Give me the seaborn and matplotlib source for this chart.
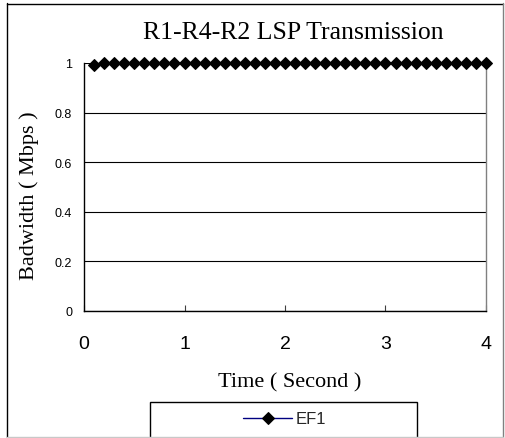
import numpy as np
import pandas as pd
import matplotlib
matplotlib.use("Agg")
import matplotlib.pyplot as plt
from matplotlib.lines import Line2D
from matplotlib.patches import Rectangle
import seaborn as sns

# ---- data ----
time_s = [0.1, 0.2, 0.3, 0.4, 0.5, 0.6, 0.7, 0.8, 0.9, 1.0,
          1.1, 1.2, 1.3, 1.4, 1.5, 1.6, 1.7, 1.8, 1.9, 2.0,
          2.1, 2.2, 2.3, 2.4, 2.5, 2.6, 2.7, 2.8, 2.9, 3.0,
          3.1, 3.2, 3.3, 3.4, 3.5, 3.6, 3.7, 3.8, 3.9, 4.0]
ef1_mbps = [0.99] + [1.0] * 39
x_ticks = [0, 1, 2, 3, 4]
y_ticks = [0, 0.2, 0.4, 0.6, 0.8, 1]
y_tick_labels = ["0", "0.2", "0.4", "0.6", "0.8", "1"]
series_name = "EF1"
title_text = "R1-R4-R2 LSP Transmission"
x_label = "Time ( Second )"
y_label = "Badwidth ( Mbps )"

df = pd.DataFrame({"time": time_s, "bw": ef1_mbps})

sns.set_theme(style="white")
plt.rcParams["font.family"] = ["Liberation Sans", "DejaVu Sans"]

W, H = 506, 439
fig = plt.figure(figsize=(W / 100, H / 100), dpi=100)
fig.patch.set_facecolor("white")

def px(x0, y0, x1, y1):
    return [x0 / W, 1 - y1 / H, (x1 - x0) / W, (y1 - y0) / H]

ax = fig.add_axes(px(84, 64, 486, 312))
ax.set_facecolor("white")

sns.lineplot(data=df, x="time", y="bw", ax=ax, color="#000080", lw=1,
             marker="D", markersize=6, markerfacecolor="black",
             markeredgecolor="black", label=series_name, clip_on=False, zorder=5)

ax.set_xlim(0, 4)
ax.set_ylim(0, 1)
ax.set_xticks(x_ticks)
ax.set_xticklabels([str(t) for t in x_ticks])
ax.set_yticks(y_ticks)
ax.set_yticklabels(y_tick_labels)

ax.yaxis.grid(True, color="black", lw=0.8)
ax.xaxis.grid(False)
ax.set_axisbelow(True)

for s in ["left", "bottom"]:
    ax.spines[s].set_visible(True)
    ax.spines[s].set_color("black")
    ax.spines[s].set_linewidth(1.0)
ax.spines["top"].set_visible(False)
ax.spines["right"].set_visible(True)
ax.spines["right"].set_color("#808080")
ax.spines["right"].set_linewidth(1.0)

ax.tick_params(axis="x", direction="in", length=4, width=0.8, color="#404040",
               labelsize=14, pad=17, bottom=True, top=False)
ax.tick_params(axis="y", length=0, labelsize=9, pad=8.5, left=False)
for lab in ax.get_xticklabels() + ax.get_yticklabels():
    lab.set_color("black")

ax.set_xlabel(x_label, family=["Liberation Serif", "DejaVu Serif"], fontsize=16, color="black")
ax.set_ylabel(y_label, family=["Liberation Serif", "DejaVu Serif"], fontsize=16, color="black")
ax.xaxis.set_label_coords(0.512, -0.245)
ax.yaxis.set_label_coords(-0.112, 0.468)

# legend
ax.legend(loc="center", bbox_to_anchor=(285 / W, 1 - 420 / H),
          bbox_transform=fig.transFigure, frameon=False, fontsize=12,
          handlelength=2.9, handletextpad=0.25, borderpad=0)
fig.patches.append(Rectangle((150 / W, 1 - 445 / H), 267 / W, 42 / H,
                             transform=fig.transFigure, facecolor="none",
                             edgecolor="black", lw=1.0, zorder=0))

# title
fig.text(143 / W, 1 - 39 / H, title_text, ha="left", va="baseline",
         family=["Liberation Serif", "DejaVu Serif"], fontsize=18.5, color="black")

# chart border
fig.lines.append(Line2D([7.5 / W, 7.5 / W], [0, 1 - 4 / H], transform=fig.transFigure, color="black", lw=1))
fig.lines.append(Line2D([7 / W, 503 / W], [1 - 4.5 / H, 1 - 4.5 / H], transform=fig.transFigure, color="black", lw=1))
fig.lines.append(Line2D([503 / W, 503 / W], [0, 1 - 4 / H], transform=fig.transFigure, color="#808080", lw=1))
fig.lines.append(Line2D([7 / W, 503 / W], [1 - 437.5 / H, 1 - 437.5 / H], transform=fig.transFigure, color="#c8c8c8", lw=1))

fig.savefig("out.png", dpi=100)
